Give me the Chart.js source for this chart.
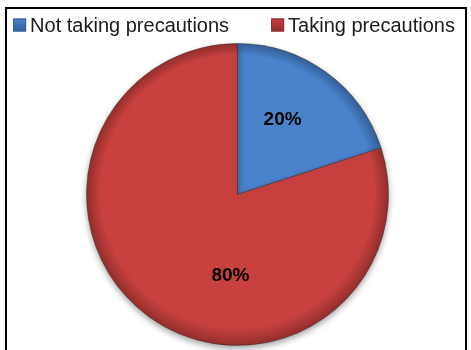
<!DOCTYPE html>
<html>
<head>
<meta charset="utf-8">
<script src="https://cdn.jsdelivr.net/npm/chart.js@4.4.0/dist/chart.umd.min.js"></script>
<style>
    html, body { margin: 0; padding: 0; background: #fff; }
    #wrap { position: relative; width: 471px; height: 350px; overflow: hidden; }
    #frame {
        position: absolute; left: 5px; top: 7px; width: 462px; height: 400px;
        border: 2px solid #000; box-sizing: border-box;
    }
    #pieChart { position: absolute; left: 0; top: 0; }
</style>
</head>
<body>
<div id="wrap">
    <div id="frame"></div>
    <canvas id="pieChart" width="471" height="350"></canvas>
</div>
<script>
// Chart data
const categories = ['Not taking precautions', 'Taking precautions'];
const shares = [20, 80];
const baseColors = ['#4a82cb', '#c8413f'];
const edgeColors = ['#34609a', '#922e2c'];

// label placement: [angle shift (deg), radius fraction]
const labelPlacement = [[-5, 0.58], [-31, 0.54]];

function sliceFill(context) {
    const chart = context.chart;
    const area = chart.chartArea;
    if (!area) return baseColors[context.dataIndex];
    const cx = (area.left + area.right) / 2;
    const cy = (area.top + area.bottom) / 2;
    const r = Math.min(area.right - area.left, area.bottom - area.top) / 2;
    const g = chart.ctx.createRadialGradient(cx, cy - r * 0.2, 0, cx, cy, r);
    g.addColorStop(0, baseColors[context.dataIndex]);
    g.addColorStop(0.9, baseColors[context.dataIndex]);
    g.addColorStop(1, edgeColors[context.dataIndex]);
    return g;
}

const shadowPlugin = {
    id: 'pieShadow',
    beforeDatasetsDraw(chart) {
        const ctx = chart.ctx;
        ctx.save();
        ctx.shadowColor = 'rgba(0,0,0,0.35)';
        ctx.shadowBlur = 6;
        ctx.shadowOffsetY = 3;
    },
    afterDatasetsDraw(chart) {
        chart.ctx.restore();
    }
};

const percentLabels = {
    id: 'percentLabels',
    afterDraw(chart) {
        const ctx = chart.ctx;
        const meta = chart.getDatasetMeta(0);
        ctx.save();
        ctx.font = 'bold 19px "Liberation Sans", Arial, sans-serif';
        ctx.fillStyle = '#000';
        ctx.textAlign = 'center';
        ctx.textBaseline = 'middle';
        meta.data.forEach((arc, i) => {
            const p = arc.getProps(['x', 'y', 'startAngle', 'endAngle', 'outerRadius'], true);
            const mid = (p.startAngle + p.endAngle) / 2 + labelPlacement[i][0] * Math.PI / 180;
            const rr = p.outerRadius * labelPlacement[i][1];
            ctx.fillText(shares[i] + '%', p.x + Math.cos(mid) * rr, p.y + Math.sin(mid) * rr);
        });
        ctx.restore();
    }
};

// legend drawn by hand so the spacing matches the original
const topLegend = {
    id: 'topLegend',
    afterDraw(chart) {
        const ctx = chart.ctx;
        const box = 13, textGap = 4, itemGap = 42, y = 25;
        ctx.save();
        ctx.font = '20px "Liberation Sans", Arial, sans-serif';
        ctx.textBaseline = 'middle';
        const widths = categories.map(c => ctx.measureText(c).width);
        let total = widths.reduce((a, w) => a + box + textGap + w, 0) + itemGap * (categories.length - 1);
        let x = 234 - total / 2;
        categories.forEach((c, i) => {
            const grd = ctx.createLinearGradient(0, y - box / 2, 0, y + box / 2);
            grd.addColorStop(0, baseColors[i]);
            grd.addColorStop(1, edgeColors[i]);
            ctx.fillStyle = grd;
            ctx.fillRect(x, y - box / 2, box, box);
            ctx.strokeStyle = edgeColors[i];
            ctx.lineWidth = 1;
            ctx.strokeRect(x + 0.5, y - box / 2 + 0.5, box - 1, box - 1);
            ctx.fillStyle = '#1a1a1a';
            ctx.fillText(c, x + box + textGap, y + 1);
            x += box + textGap + widths[i] + itemGap;
        });
        ctx.restore();
    }
};

new Chart(document.getElementById('pieChart'), {
    type: 'pie',
    data: {
        labels: categories,
        datasets: [{
            data: shares,
            backgroundColor: sliceFill,
            borderColor: 'rgba(40,40,40,0.45)',
            borderWidth: 1
        }]
    },
    options: {
        responsive: false,
        animation: false,
        layout: { padding: { left: 4, right: 0, top: 43, bottom: 4 } },
        plugins: {
            legend: { display: false },
            tooltip: { enabled: false }
        }
    },
    plugins: [shadowPlugin, percentLabels, topLegend]
});
</script>
</body>
</html>
